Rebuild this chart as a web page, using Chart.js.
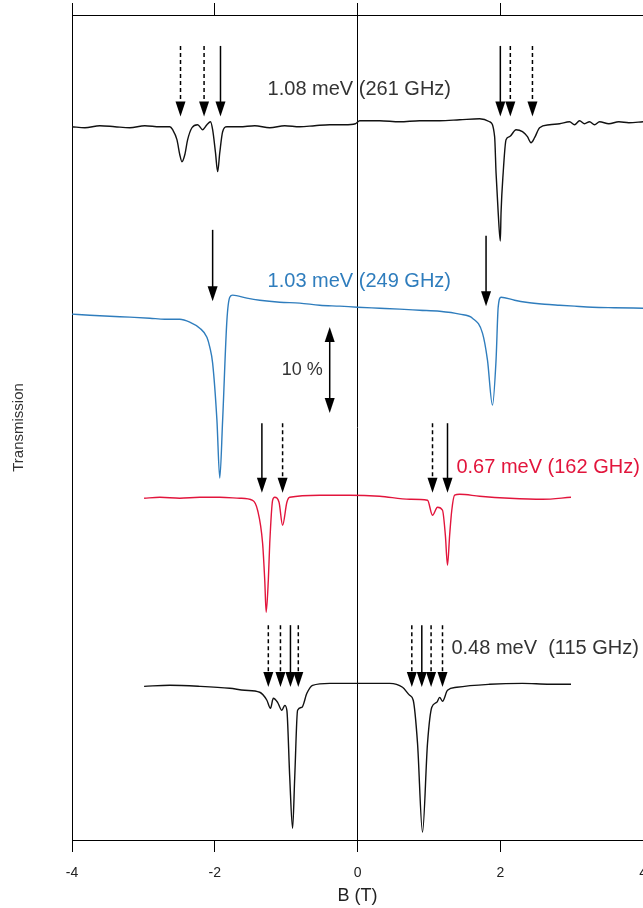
<!DOCTYPE html>
<html>
<head>
<meta charset="utf-8">
<title>Transmission spectra</title>
<script src="https://cdn.jsdelivr.net/npm/chart.js@4.4.1/dist/chart.umd.min.js"></script>
<style>
  body { margin: 0; overflow: hidden; background: #fff; }
  canvas { display: block; }
</style>
</head>
<body>
<canvas id="myChart" width="660" height="908"></canvas>
<script>
/* spectra: B (T) and change of transmission (%) around each baseline */
const names = ['1.08 meV (261 GHz)', '1.03 meV (249 GHz)', '0.67 meV (162 GHz)', '0.48 meV  (115 GHz)'];
const offsets = [83, 62, 40, 18];

const b1 = [-4.0, -3.82, -3.61, -3.4, -3.19, -2.98, -2.77, -2.63, -2.59, -2.53, -2.49, -2.46, -2.42, -2.38, -2.32, -2.24, -2.17, -2.11, -2.06, -2.03, -1.99, -1.96, -1.93, -1.89, -1.83, -1.65, -1.44, -1.23, -1.02, -0.81, -0.6, -0.39, -0.18, -0.03, 0.03, 0.31, 0.59, 0.87, 1.15, 1.43, 1.71, 1.85, 1.92, 1.94, 1.97, 2.0, 2.01, 2.04, 2.08, 2.13, 2.22, 2.31, 2.38, 2.43, 2.48, 2.55, 2.69, 2.83, 2.97, 3.04, 3.11, 3.18, 3.25, 3.32, 3.39, 3.52, 3.66, 3.8, 4.0];
const t1 = [0, -0.12, 0.12, 0, -0.12, 0.12, 0, 0, -0.35, -1.51, -3.26, -4.07, -3.26, -1.51, -0.12, 0.23, -0.35, 0.23, 0.58, -0.35, -3.02, -5.23, -3.02, -0.58, 0, 0, 0.12, -0.12, 0.12, 0, 0.12, 0.23, 0.23, 0.35, 0.7, 0.7, 0.58, 0.7, 0.7, 0.81, 0.93, 0.58, -1.16, -5.35, -10.0, -13.3, -10.0, -5.35, -1.51, -1.16, -0.35, -0.58, -1.16, -1.86, -1.28, -0.12, 0.23, 0.35, 0.58, 0.23, 0.7, 0.35, 0.58, 0.23, 0.58, 0.35, 0.58, 0.47, 0.58];

const b2 = [-4.0, -3.75, -3.47, -3.19, -2.91, -2.7, -2.49, -2.35, -2.21, -2.11, -2.07, -2.03, -1.97, -1.93, -1.89, -1.83, -1.79, -1.75, -1.55, -1.37, -1.09, -0.81, -0.53, -0.25, 0, 0.31, 0.59, 0.87, 1.15, 1.43, 1.61, 1.75, 1.82, 1.89, 1.94, 1.97, 2.01, 2.2, 2.36, 2.62, 2.83, 3.04, 3.29, 3.59, 4.0];
const t2 = [-0.81, -0.93, -1.05, -1.16, -1.28, -1.4, -1.4, -1.74, -2.44, -3.49, -4.65, -6.51, -13.14, -19.88, -13.14, -1.51, 1.16, 1.4, 1.05, 0.81, 0.58, 0.47, 0.23, 0.12, 0, -0.12, -0.23, -0.35, -0.47, -0.81, -1.28, -3.02, -6.16, -11.4, -6.16, 0, 1.16, 0.81, 0.58, 0.35, 0.23, 0.12, 0, -0.06, -0.12];

const b3 = [-2.99, -2.77, -2.49, -2.21, -1.93, -1.65, -1.47, -1.4, -1.33, -1.3, -1.28, -1.25, -1.23, -1.19, -1.16, -1.1, -1.05, -0.99, -0.95, -0.53, -0.11, 0.31, 0.73, 0.98, 1.05, 1.12, 1.19, 1.23, 1.26, 1.29, 1.32, 1.36, 1.43, 1.71, 2.13, 2.59, 2.99];
const t3 = [-0.23, -0.12, -0.23, -0.12, -0.12, -0.23, -0.47, -1.63, -5.47, -9.77, -13.5, -9.77, -5.47, -0.47, -0.12, -0.7, -3.37, -0.7, -0.12, 0.12, 0.12, 0, -0.35, -0.47, -2.21, -1.28, -1.63, -4.53, -8.02, -4.53, -1.63, 0.12, 0.23, 0, -0.23, -0.35, -0.12];

const b4 = [-2.99, -2.63, -2.21, -1.79, -1.58, -1.37, -1.27, -1.22, -1.18, -1.12, -1.06, -1.02, -0.99, -0.95, -0.91, -0.88, -0.84, -0.78, -0.71, -0.63, -0.39, 0, 0.24, 0.45, 0.63, 0.73, 0.78, 0.84, 0.91, 0.98, 1.04, 1.11, 1.15, 1.19, 1.26, 1.39, 1.85, 2.31, 2.69, 2.99];
const t4 = [-0.12, 0, -0.12, -0.35, -0.58, -0.81, -1.74, -2.67, -1.51, -1.98, -2.91, -2.33, -2.91, -10.7, -16.63, -10.7, -2.91, -2.56, -0.93, 0, 0.23, 0.23, 0.23, 0.23, -0.23, -1.16, -1.74, -6.74, -17.09, -6.74, -2.56, -1.98, -1.4, -1.86, -0.58, -0.23, 0.12, 0.23, 0.12, 0.12];

/* arrows marking the resonances (B in T, top / tip in % from baseline) */
const arrowSpec = [0, 0, 0, 0, 0, 0, 1, 1, 2, 2, 2, 2, 3, 3, 3, 3, 3, 3, 3, 3];
const arrowB = [-2.48, -2.15, -1.92, 2.0, 2.14, 2.45, -2.03, 1.8, -1.34, -1.05, 1.05, 1.26, -1.25, -1.08, -0.94, -0.83, 0.76, 0.9, 1.03, 1.19];
const arrowDashed = [1, 1, 0, 0, 1, 1, 0, 0, 0, 1, 1, 0, 1, 1, 0, 1, 1, 0, 1, 1];
const arrowTop = [9.4, 9.4, 9.4, 9.4, 9.4, 9.4, 9.0, 8.3, 8.5, 8.5, 8.5, 8.5, 7.0, 7.0, 7.0, 7.0, 7.0, 7.0, 7.0, 7.0];
const arrowTip = [1.2, 1.2, 1.2, 1.2, 1.2, 1.2, 0.7, 0.1, 0.4, 0.4, 0.4, 0.4, -0.2, -0.2, -0.2, -0.2, -0.2, -0.2, -0.2, -0.2];

/* label of each spectrum */
const nameB = [-1.26, -1.26, 1.385, 1.315];
const nameY = [4.3, 3.0, 3.4, 4.3];

/* 10 % scale bar */
const barB = -0.39;
const barFrom = 49.7;
const barTo = 59.7;

const colors = ['#111111', '#2f7dbd', '#e2153c', '#111111'];
const textColors = ['#333333', '#2f7dbd', '#e2153c', '#333333'];
const font = "'Liberation Sans', Arial, sans-serif";

const xs = [b1, b2, b3, b4];
const ts = [t1, t2, t3, t4];

const datasets = xs.map(function(b, i) {
    return {
        label: names[i],
        data: b.map(function(v, j) { return {x: v, y: offsets[i] + ts[i][j]}; }),
        borderColor: colors[i],
        borderWidth: 1.4,
        pointRadius: 0,
        fill: false,
        cubicInterpolationMode: 'monotone'
    };
});

function arrowHead(ctx, px, tip, dir) {
    ctx.beginPath();
    ctx.moveTo(px, tip);
    ctx.lineTo(px - 5, tip - dir * 15);
    ctx.lineTo(px + 5, tip - dir * 15);
    ctx.closePath();
    ctx.fill();
}

const annotations = {
    id: 'annotations',
    afterDatasetsDraw(chart) {
        const {ctx, scales: {x, y}, chartArea} = chart;
        ctx.save();
        ctx.fillStyle = '#000';
        ctx.strokeStyle = '#000';
        ctx.lineWidth = 1.5;

        for (let i = 0; i < arrowB.length; i++) {
            const off = offsets[arrowSpec[i]];
            const px = x.getPixelForValue(arrowB[i]);
            const top = y.getPixelForValue(off + arrowTop[i]);
            const tip = y.getPixelForValue(off + arrowTip[i]);
            ctx.setLineDash(arrowDashed[i] ? [4, 3] : []);
            ctx.beginPath();
            ctx.moveTo(px, top);
            ctx.lineTo(px, tip - 12);
            ctx.stroke();
            ctx.setLineDash([]);
            arrowHead(ctx, px, tip, 1);
        }

        /* 10 % bar */
        const bx = x.getPixelForValue(barB);
        const b0 = y.getPixelForValue(barTo);
        const b1p = y.getPixelForValue(barFrom);
        ctx.beginPath();
        ctx.moveTo(bx, b0 + 12);
        ctx.lineTo(bx, b1p - 12);
        ctx.stroke();
        arrowHead(ctx, bx, b0, -1);
        arrowHead(ctx, bx, b1p, 1);

        ctx.textBaseline = 'middle';
        ctx.font = '18px ' + font;
        ctx.fillStyle = '#333';
        ctx.textAlign = 'right';
        ctx.fillText('10 %', bx - 7, y.getPixelForValue((barFrom + barTo) / 2));

        ctx.textAlign = 'left';
        ctx.font = '20px ' + font;
        for (let i = 0; i < names.length; i++) {
            ctx.fillStyle = textColors[i];
            ctx.fillText(names[i], x.getPixelForValue(nameB[i]), y.getPixelForValue(offsets[i] + nameY[i]));
        }

        /* y axis title */
        ctx.translate(19, (chartArea.top + chartArea.bottom) / 2);
        ctx.rotate(-Math.PI / 2);
        ctx.textAlign = 'center';
        ctx.font = '15px ' + font;
        ctx.fillStyle = '#333';
        ctx.fillText('Transmission', 0, 0);
        ctx.restore();
    }
};

const ctx = document.getElementById('myChart');
const myChart = new Chart(ctx, {
    type: 'line',
    data: { datasets: datasets },
    options: {
        responsive: false,
        animation: false,
        devicePixelRatio: 1,
        layout: { padding: { right: 16 } },
        plugins: {
            legend: { display: false },
            tooltip: { enabled: false }
        },
        scales: {
            x: {
                type: 'linear',
                position: 'bottom',
                min: -4,
                max: 4,
                ticks: { stepSize: 2, padding: 13, color: '#222', maxRotation: 0, font: { family: font, size: 14 } },
                grid: {
                    color: function(c) { return c.tick && c.tick.value === 0 ? '#000' : 'rgba(0,0,0,0)'; },
                    tickColor: '#000',
                    tickLength: 12,
                    lineWidth: 1
                },
                border: { color: '#000', width: 1 },
                title: { display: true, text: 'B (T)', color: '#222', font: { family: font, size: 18 }, padding: { top: 2, bottom: 1 } },
                afterFit: function(s) { s.height = 68; }
            },
            xTop: {
                type: 'linear',
                position: 'top',
                min: -4,
                max: 4,
                ticks: { stepSize: 2, display: false },
                grid: { drawOnChartArea: false, tickColor: '#000', tickLength: 12, color: '#000' },
                border: { color: '#000', width: 1 },
                afterFit: function(s) { s.height = 15; }
            },
            y: {
                min: 0,
                max: 96,
                ticks: { display: false },
                grid: { drawOnChartArea: false, drawTicks: false },
                border: { color: '#000', width: 1 },
                afterFit: function(s) { s.width = 72; }
            }
        }
    },
    plugins: [annotations]
});
</script>
</body>
</html>
